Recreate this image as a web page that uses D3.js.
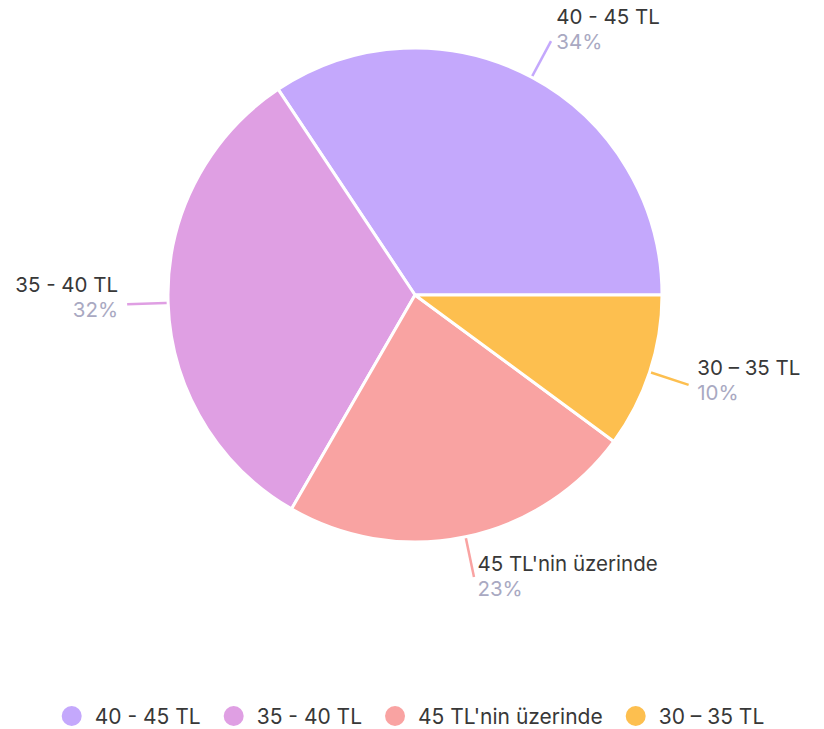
<!DOCTYPE html>
<html>
<head>
<meta charset="utf-8">
<script src="https://cdn.jsdelivr.net/npm/d3@7"></script>
<style>
  body { margin: 0; background: #fff; }
  svg { display: block; font-family: Inter, "Noto Sans", sans-serif; }
</style>
</head>
<body>
<svg id="chart" width="824" height="729"></svg>
<script>
const categories = ["40 - 45 TL", "35 - 40 TL", "45 TL'nin üzerinde", "30 – 35 TL"];
const values = [34, 32, 23, 10];
const colors = d3.scaleOrdinal(categories, ["#c4a8fc", "#df9fe3", "#f9a3a2", "#fdbf4f"]);

let sizes = {
  cx: 415,
  cy: 295,
  radius: 247,
  lineOuter: 288,
  font: 20.5,
  legendFont: 21,
};

const svg = d3.select("#chart");

const data = categories.map((c, i) => ({ name: c, value: values[i] }));

// counterclockwise, starting at 3 o'clock
let generator = d3
  .pie()
  .sort(null)
  .value((d) => d.value)
  .startAngle(Math.PI / 2)
  .endAngle(Math.PI / 2 - 2 * Math.PI);

let chart = generator(data);

const arc = d3.arc().innerRadius(0).outerRadius(sizes.radius);

const g = svg.append("g").attr("transform", `translate(${sizes.cx}, ${sizes.cy})`);

const mid = (d) => (d.startAngle + d.endAngle) / 2;
const point = (a, r) => [Math.sin(a) * r, -Math.cos(a) * r];

// leader lines first, pie drawn over them
g.selectAll("line.leader")
  .data(chart)
  .enter()
  .append("line")
  .attr("class", "leader")
  .attr("x1", (d) => point(mid(d), sizes.radius - 5)[0])
  .attr("y1", (d) => point(mid(d), sizes.radius - 5)[1])
  .attr("x2", (d) => point(mid(d), sizes.lineOuter)[0])
  .attr("y2", (d) => point(mid(d), sizes.lineOuter)[1])
  .attr("stroke", (d) => colors(d.data.name))
  .attr("stroke-width", 2.5);

g.selectAll("path")
  .data(chart)
  .enter()
  .append("path")
  .attr("d", arc)
  .attr("fill", (d) => colors(d.data.name))
  .attr("stroke", "#fff")
  .attr("stroke-width", 3)
  .attr("stroke-linejoin", "round");

const labels = g
  .selectAll("g.label")
  .data(chart)
  .enter()
  .append("g")
  .attr("class", "label")
  .attr("font-size", sizes.font)
  .attr("transform", (d) => {
    let a = mid(d);
    let [x, y] = point(a, sizes.lineOuter);
    let dx = (Math.sin(a) >= 0 ? 1 : -1) * (2 + 7 * Math.abs(Math.sin(a)));
    let dy = -12 - 6 * Math.cos(a);
    return `translate(${x + dx}, ${y + dy})`;
  })
  .attr("text-anchor", (d) => (Math.sin(mid(d)) >= 0 ? "start" : "end"));

labels
  .append("text")
  .attr("fill", "#383838")
  .text((d) => d.data.name);

labels
  .append("text")
  .attr("y", 25)
  .attr("fill", "#a9a9c2")
  .text((d) => d.data.value + "%");

// legend
const legend = svg.append("g");
let x = 0;
const items = legend.selectAll("g").data(categories).enter().append("g");

items
  .append("circle")
  .attr("r", 10)
  .attr("fill", (d) => colors(d));

items
  .append("text")
  .attr("x", 23)
  .attr("y", 8)
  .attr("font-size", sizes.legendFont)
  .attr("fill", "#383838")
  .text((d) => d);

items.each(function () {
  const w = this.querySelector("text").getComputedTextLength();
  d3.select(this).attr("transform", `translate(${x}, 0)`);
  x += 23 + w + 33;
});
const total = x - 33 + 10;
legend.attr("transform", `translate(${413 - total / 2 + 10}, 716)`);
</script>
</body>
</html>
